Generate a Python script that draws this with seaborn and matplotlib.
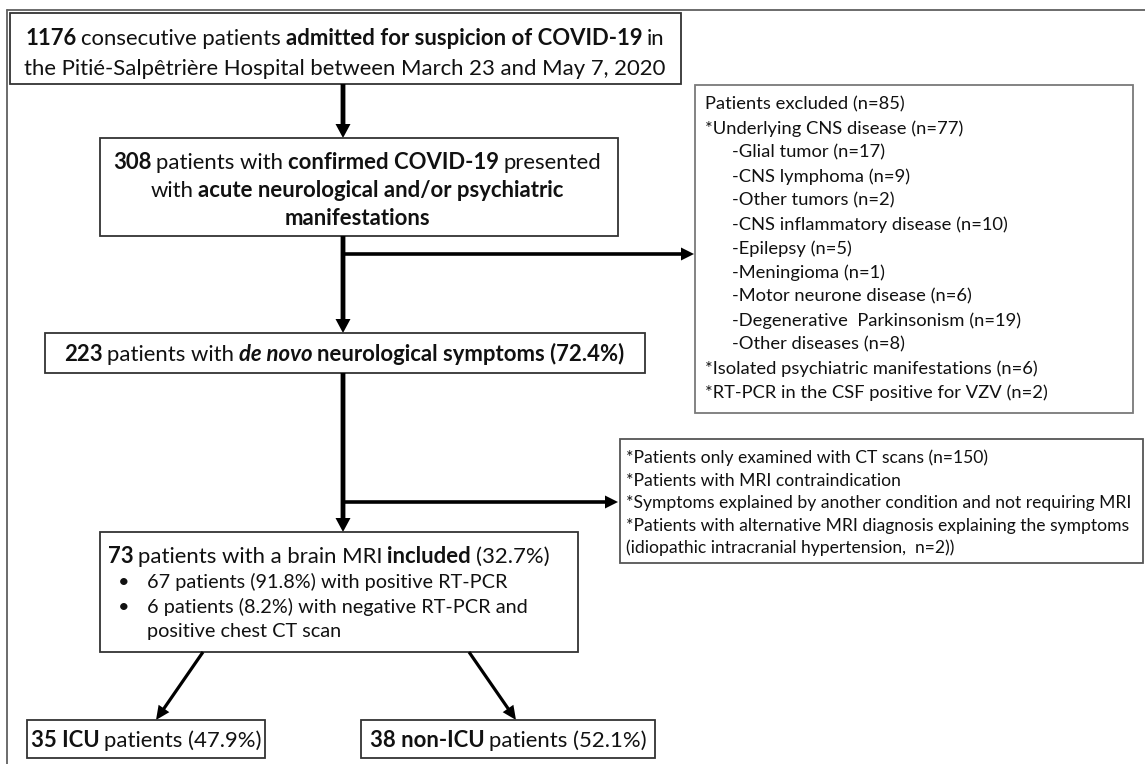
import matplotlib
matplotlib.use("Agg")
import matplotlib.pyplot as plt
import seaborn as sns
from matplotlib.patches import Rectangle

sns.set_theme(style="white")
plt.rcParams['font.family'] = ['Lato', 'DejaVu Sans']

# ---------------- data ----------------
B, N, BI = ("bold", "normal"), ("normal", "normal"), ("bold", "italic")

box1_lines = [
    [("1176", B), ("consecutive patients", N), ("admitted for suspicion of COVID-19", B), ("in", N)],
    [("the Pitié-Salpêtrière Hospital between March 23 and May 7, 2020", N)],
]
box2_lines = [
    [("308", B), ("patients with", N), ("confirmed COVID-19", B), ("presented", N)],
    [("with", N), ("acute neurological and/or psychiatric", B)],
    [("manifestations", B)],
]
box3_lines = [
    [("223", B), ("patients with", N), ("de novo", BI), ("neurological symptoms (72.4%)", B)],
]
box4_header = [("73", B), ("patients with a brain MRI", N), ("included", B), ("(32.7%)", N)]
box4_bullets = ["67 patients (91.8%) with positive RT-PCR",
                "6 patients (8.2%) with negative RT-PCR and\npositive chest CT scan"]
icu_lines = [[("35 ICU", B), ("patients (47.9%)", N)]]
nonicu_lines = [[("38 non-ICU", B), ("patients (52.1%)", N)]]

excl1_header = "Patients excluded (n=85)"
cns_label, cns_n = "Underlying CNS disease", 77
cns_sub = ["Glial tumor", "CNS lymphoma", "Other tumors", "CNS inflammatory disease",
           "Epilepsy", "Meningioma", "Motor neurone disease",
           "Degenerative  Parkinsonism", "Other diseases"]
cns_sub_n = [17, 9, 2, 10, 5, 1, 6, 19, 8]
excl1_other = ["Isolated psychiatric manifestations", "RT-PCR in the CSF positive for VZV"]
excl1_other_n = [6, 2]

excl2_lines = ["*Patients only examined with CT scans (n=150)",
               "*Patients with MRI contraindication",
               "*Symptoms explained by another condition and not requiring MRI",
               "*Patients with alternative MRI diagnosis explaining the symptoms",
               "(idiopathic intracranial hypertension,  n=2))"]

# ---------------- canvas ----------------
W, H = 1145, 764
fig = plt.figure(figsize=(W / 100, H / 100), dpi=100)
ax = fig.add_axes([0, 0, 1, 1])
ax.set_xlim(0, W)
ax.set_ylim(H, 0)
ax.axis("off")
sns.despine(ax=ax, left=True, bottom=True)
renderer = fig.canvas.get_renderer()

_cache = {}
def tw(s, size, style=N):
    key = (s, size, style)
    if key not in _cache:
        t = ax.text(0, 0, s, fontsize=size, fontweight=style[0], fontstyle=style[1])
        _cache[key] = t.get_window_extent(renderer).width
        t.remove()
    return _cache[key]

def sp(size):
    return tw("a a", size) - tw("aa", size) - 1.0

def line_w(segs, size):
    return sum(tw(s, size, st) for s, st in segs) + sp(size) * (len(segs) - 1)

def draw_line(segs, x, yc, size, ha="left", color="#111111"):
    if ha == "center":
        x = x - line_w(segs, size) / 2
    yb = yc + 0.36 * size * 100 / 72
    for s, st in segs:
        ax.text(x, yb, s, fontsize=size, fontweight=st[0], fontstyle=st[1],
                va="baseline", ha="left", color=color)
        x += tw(s, size, st) + sp(size)

def box(x0, y0, x1, y1, ec="#333333", lw=1.3):
    ax.add_patch(Rectangle((x0, y0), x1 - x0, y1 - y0, fill=False, ec=ec, lw=lw))

def arrow(x0, y0, x1, y1, width=4.8, hw=15, hl=14):
    ax.arrow(x0, y0, x1 - x0, y1 - y0, width=width, head_width=hw, head_length=hl,
             length_includes_head=True, color="black", lw=0)

ex1 = [(excl1_header, 0)] + [("*%s (n=%d)" % (cns_label, cns_n), 0)]
ex1 += [("-%s (n=%d)" % (s, n), 1) for s, n in zip(cns_sub, cns_sub_n)]
ex1 += [("*%s (n=%d)" % (s, n), 0) for s, n in zip(excl1_other, excl1_other_n)]

# font sizes fitted to the reference widths
main_fs = 20 * 642 / line_w(box1_lines[1], 20)
side_fs = 20 * 506 / tw(excl2_lines[2], 20)
ex1_fs = 20 * (257 + 277) / (tw(ex1[1][0], 20) + tw(ex1[5][0], 20))

# outer frame
ax.plot([7, 7], [10, H], color="#606060", lw=1.3)
ax.plot([7, W], [10, 10], color="#606060", lw=1.3)

# box 1
box(10, 13, 681, 84)
for yc, segs in zip([37, 67], box1_lines):
    draw_line(segs, 345, yc, main_fs, ha="center")

# arrow 1
arrow(343, 84, 343, 138)

# box 2
box(100, 138, 618, 236)
for yc, segs in zip([161, 189, 217], box2_lines):
    draw_line(segs, 357, yc, main_fs, ha="center")

# arrow 2 with branch
arrow(343, 236, 343, 333)
arrow(343, 254, 694, 254, width=3.6, hw=13, hl=13)

# box 3
box(45, 333, 645, 373)
draw_line(box3_lines[0], 344, 353, main_fs, ha="center")

# exclusion box 1
box(695, 85, 1133, 413, ec="#7a7a7a")
for i, (txt, ind) in enumerate(ex1):
    draw_line([(txt, N)], 705 + 27 * ind, 103 + 24 * i, ex1_fs)

# arrow 3 with branch
arrow(343, 373, 343, 532)
arrow(343, 502, 618, 502, width=3.6, hw=13, hl=13)

# exclusion box 2
box(620, 439, 1143, 563, ec="#555555")
for i, txt in enumerate(excl2_lines):
    draw_line([(txt, N)], 626, 457 + 22.5 * i, side_fs)

# box 4
box(100, 532, 578, 652)
draw_line(box4_header, 108, 555, main_fs)
yy = 581
for b in box4_bullets:
    parts = b.split("\n")
    draw_line([("•", N)], 118, yy, main_fs * 0.9)
    for p in parts:
        draw_line([(p, N)], 147, yy, main_fs * 0.9)
        yy += 24.5

# diagonal arrows
arrow(203, 652, 156, 720, width=3.2, hw=13, hl=14)
arrow(469, 652, 516, 720, width=3.2, hw=13, hl=14)

# ICU boxes
box(27, 720, 265, 758)
draw_line(icu_lines[0], 146, 739, main_fs, ha="center")
box(361, 720, 655, 758)
draw_line(nonicu_lines[0], 508, 739, main_fs, ha="center")

fig.savefig("out.png", dpi=100, facecolor="white")
